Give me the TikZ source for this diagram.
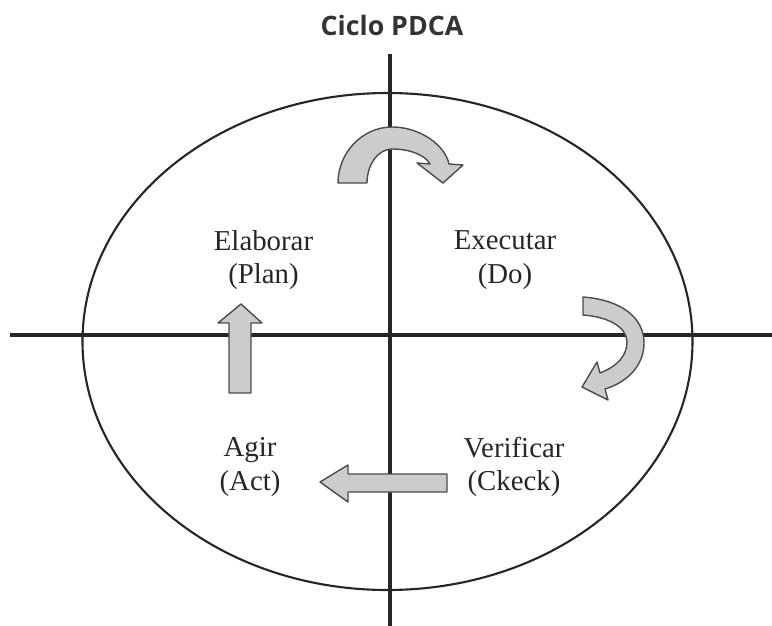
\documentclass[tikz,border=0pt]{standalone}
\usepackage{fontspec}
\setmainfont{Liberation Serif}
\newfontfamily\titlefont{Open Sans}
\begin{document}
\begin{tikzpicture}[x=0.025cm,y=-0.025cm,
	axis/.style={line width=2.2pt,black!85},
	band/.style={fill=black!20,draw=black!70,line width=1pt,line join=round},
	phase/.style={font=\fontsize{20.5}{24}\selectfont,align=center,text=black!85}]
	\useasboundingbox (0,0) rectangle (772,626);
	% Define the coordinates
	\coordinate (O) at (390,335);
	\coordinate (L) at (10,335);
	\coordinate (R) at (772,335);
	\coordinate (T) at (390,54);
	\coordinate (B) at (390,626);
	% Title
	\node[font=\titlefont\bfseries\fontsize{19}{22}\selectfont,text=black!80] (title) at (392,25) {Ciclo PDCA};
	% Draw the ellipse and the axes
	\draw[black!85,line width=1.5pt] (387.5,341.5) ellipse [x radius=305,y radius=248.5];
	\draw[axis] (L) -- (R);
	\draw[axis] (T) -- (B);
	% Curved arrow: Plan to Do
	\draw[band] (338,183) .. controls (338,153) and (362,127) .. (392,127)
		.. controls (420,127) and (445,145) .. (449,164) -- (463,165) -- (443,183) -- (417,163) -- (430,164)
		.. controls (425,155) and (410,149) .. (392,149)
		.. controls (378,149) and (367,165) .. (367,183) -- cycle;
	% Curved arrow: Do to Check
	\draw[band] (583,297) .. controls (622,300) and (644,318) .. (644,343)
		.. controls (644,365) and (628,382) .. (605,389) -- (608,400) -- (582,387) -- (597,362) -- (600,373)
		.. controls (618,366) and (627,355) .. (627,342)
		.. controls (627,328) and (610,317) .. (583,315) -- cycle;
	% Straight arrow: Check to Act
	\draw[band] (447,474) -- (348,474) -- (348,465) -- (320,482) -- (348,502) -- (348,492) -- (447,492) -- cycle;
	% Straight arrow: Act to Plan
	\draw[band] (229,393) -- (229,323) -- (218,323) -- (241,304) -- (262,323) -- (251,323) -- (251,393) -- cycle;
	% Add labels
	\node[phase] (plan) at (263.5,260) {Elaborar\\(Plan)};
	\node[phase] (do) at (505,260) {Executar\\(Do)};
	\node[phase] (check) at (514,467) {Verificar\\(Ckeck)};
	\node[phase] (act) at (250,467) {Agir\\(Act)};
\end{tikzpicture}
\end{document}
